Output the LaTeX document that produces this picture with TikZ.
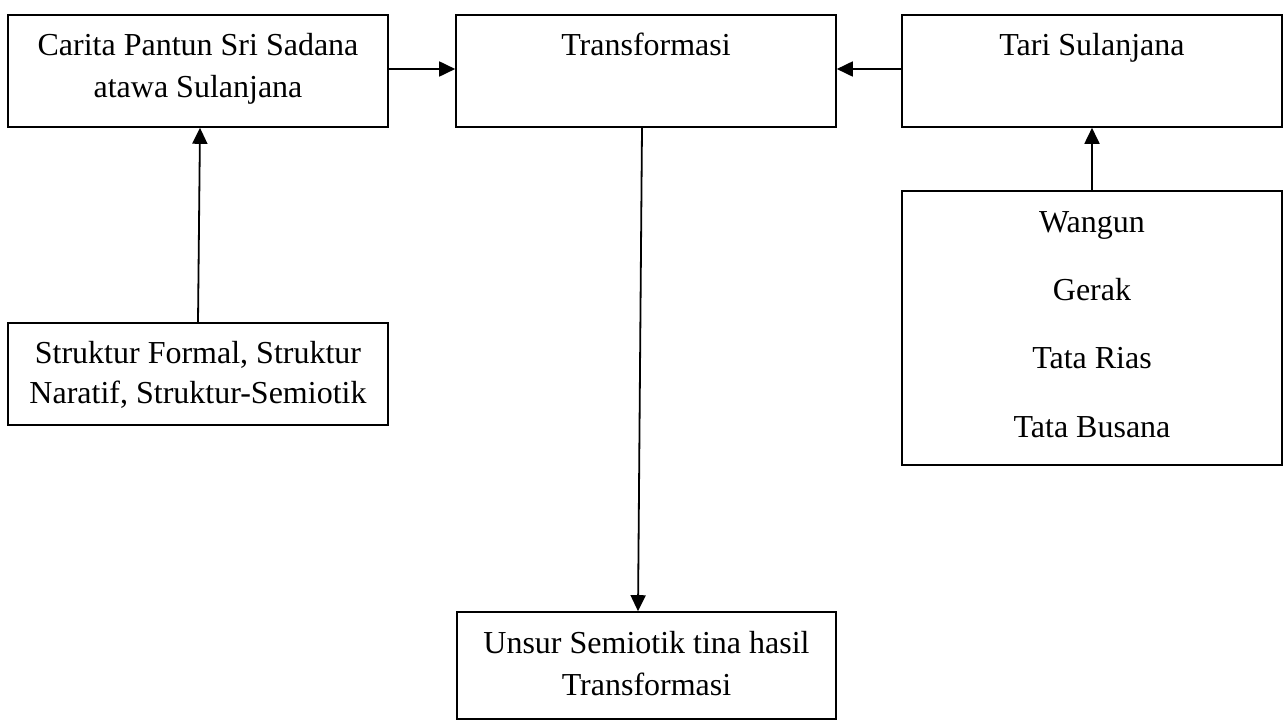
\documentclass[tikz,border=0pt]{standalone}
\usepackage{fontspec}
\setmainfont{Liberation Serif}
\usetikzlibrary{arrows.meta}
\begin{document}
\begin{tikzpicture}[x=1pt,y=-1pt,
  box/.style={draw=black,line width=1.6pt,rectangle,inner sep=0pt},
  txt/.style={anchor=base,inner sep=0pt,font=\fontsize{32}{42}\selectfont},
  arr/.style={line width=1.8pt,-{Triangle[length=16pt,width=15pt]}}]
\useasboundingbox (0,0) rectangle (1283,720);
% boxes
\node[box,minimum width=380pt,minimum height=112pt] (carita) at (198,71) {};
\node[box,minimum width=380pt,minimum height=112pt] (trans) at (646,71) {};
\node[box,minimum width=380pt,minimum height=112pt] (tari) at (1092,71) {};
\node[box,minimum width=380pt,minimum height=102pt] (struktur) at (198,374) {};
\node[box,minimum width=380pt,minimum height=274pt] (wangun) at (1092,328) {};
\node[box,minimum width=379pt,minimum height=107pt] (unsur) at (646.5,665.5) {};
% texts
\node[txt] (t1a) at (198,55) {Carita Pantun Sri Sadana};
\node[txt] (t1b) at (198,97) {atawa Sulanjana};
\node[txt] (t2) at (646,55) {Transformasi};
\node[txt] (t3) at (1092,55) {Tari Sulanjana};
\node[txt] (t4a) at (198,363) {Struktur Formal, Struktur};
\node[txt] (t4b) at (198,403) {Naratif, Struktur-Semiotik};
\node[txt] (t5a) at (1092,232) {Wangun};
\node[txt] (t5b) at (1092,300) {Gerak};
\node[txt] (t5c) at (1092,368) {Tata Rias};
\node[txt] (t5d) at (1092,437) {Tata Busana};
\node[txt] (t6a) at (646.5,653) {Unsur Semiotik tina hasil};
\node[txt] (t6b) at (646.5,695) {Transformasi};
% connectors
\draw[arr] ([yshift=2pt]carita.east) -- ([yshift=2pt]trans.west);
\draw[arr] ([yshift=2pt]tari.west) -- ([yshift=2pt]trans.east);
\draw[arr] (struktur.north) -- ([xshift=2pt]carita.south);
\draw[arr] (wangun.north) -- (tari.south);
\draw[arr] ([xshift=-4pt]trans.south) -- ([xshift=-8.5pt]unsur.north);
\end{tikzpicture}
\end{document}
